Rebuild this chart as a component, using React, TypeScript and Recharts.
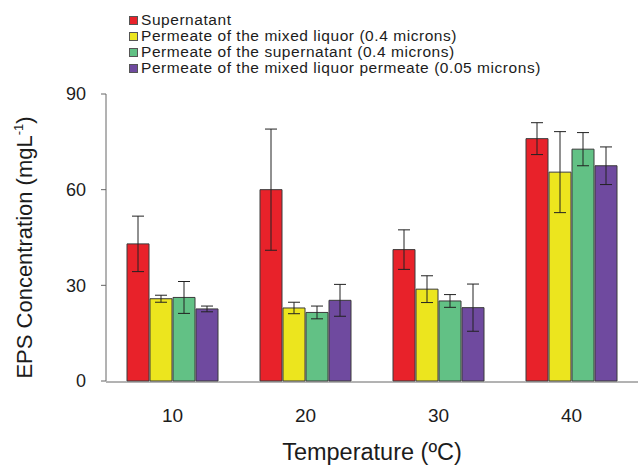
import { Bar, BarChart, ErrorBar, Label, Legend, XAxis, YAxis } from 'recharts'

const temps = ['10', '20', '30', '40']
const supernatant = [43, 60, 41.2, 76]
const supernatantErr = [8.7, 19, 6.2, 5]
const mixedPermeate = [25.8, 22.9, 28.8, 65.5]
const mixedPermeateErr = [1.1, 1.8, 4.2, 12.7]
const supernatantPermeate = [26.2, 21.5, 25.1, 72.7]
const supernatantPermeateErr = [5, 2, 2, 5.2]
const finePermeate = [22.6, 25.3, 23, 67.5]
const finePermeateErr = [0.9, 5, 7.4, 5.9]

const seriesNames = [
  'Supernatant',
  'Permeate of the mixed liquor (0.4 microns)',
  'Permeate of the supernatant (0.4 microns)',
  'Permeate of the mixed liquor permeate (0.05 microns)',
]
const colors = ['#e8222a', '#ece51e', '#62c185', '#6f4a9f']
const yTicks = [0, 30, 60, 90]
const edgeTicks = [0, 1, 2, 3, 4]

const data = temps.map((t, i) => ({
  t,
  s: supernatant[i],
  sErr: supernatantErr[i],
  m: mixedPermeate[i],
  mErr: mixedPermeateErr[i],
  p: supernatantPermeate[i],
  pErr: supernatantPermeateErr[i],
  f: finePermeate[i],
  fErr: finePermeateErr[i],
}))

const keys = ['s', 'm', 'p', 'f']
const font = '"Liberation Sans", Arial, sans-serif'
const ink = '#1c1c1c'

function LegendBox() {
  return (
    <div style={{ height: 86, paddingLeft: 129, paddingTop: 4, boxSizing: 'border-box', fontFamily: font, fontSize: 15.5, letterSpacing: 0.55, color: ink }}>
      {seriesNames.map((name, i) => (
        <div key={name} style={{ height: 16, lineHeight: '16px', display: 'flex', alignItems: 'center', whiteSpace: 'nowrap' }}>
          <span style={{ width: 7, height: 7, background: colors[i], border: '1px solid #555', marginRight: 3, flex: 'none' }} />
          {name}
        </div>
      ))}
    </div>
  )
}

function YTitle({ viewBox }: any) {
  const x = viewBox.x + 24.5
  const y = viewBox.y + viewBox.height / 2 + 10
  return (
    <text x={x} y={y} transform={`rotate(-90, ${x}, ${y})`} textAnchor="middle" dy="0.36em" fontSize={22} fill={ink} fontFamily={font}>
      EPS Concentration (mgL<tspan fontSize={13} dy={-9}>-1</tspan><tspan dy={9}>)</tspan>
    </text>
  )
}

export default function App() {
  return (
    <div style={{ position: 'absolute', left: 0, top: 0, width: 641, height: 466, background: '#fff' }}>
      <BarChart width={641} height={466} data={data} margin={{ top: 8, right: 3, bottom: 83, left: 0 }} barGap={1} barSize={22}>
        <Legend verticalAlign="top" align="left" layout="horizontal" content={() => <LegendBox />} />
        <XAxis
          xAxisId="edge"
          type="number"
          domain={[0, 4]}
          ticks={edgeTicks}
          tick={false}
          tickSize={4}
          height={1}
          stroke="#666"
          allowDataOverflow
        />
        <XAxis
          dataKey="t"
          height={1}
          axisLine={false}
          tickLine={false}
          tickSize={6}
          tickMargin={22}
          tick={{ fill: ink, fontSize: 19, fontFamily: font }}
        >
          <Label value="Temperature (ºC)" position="bottom" offset={61} fontSize={23.5} fill={ink} fontFamily={font} />
        </XAxis>
        <YAxis
          width={106}
          domain={[0, 90]}
          ticks={yTicks}
          tickSize={5}
          tickMargin={15}
          stroke="#666"
          tick={{ fill: ink, fontSize: 18, fontFamily: font }}
        >
          <Label content={YTitle} />
        </YAxis>
        {keys.map((k, i) => (
          <Bar key={k} dataKey={k} name={seriesNames[i]} fill={colors[i]} stroke="#3a3a3a" strokeWidth={1} isAnimationActive={false}>
            <ErrorBar dataKey={`${k}Err`} width={6} stroke="#222" strokeWidth={1} direction="y" />
          </Bar>
        ))}
      </BarChart>
    </div>
  )
}
